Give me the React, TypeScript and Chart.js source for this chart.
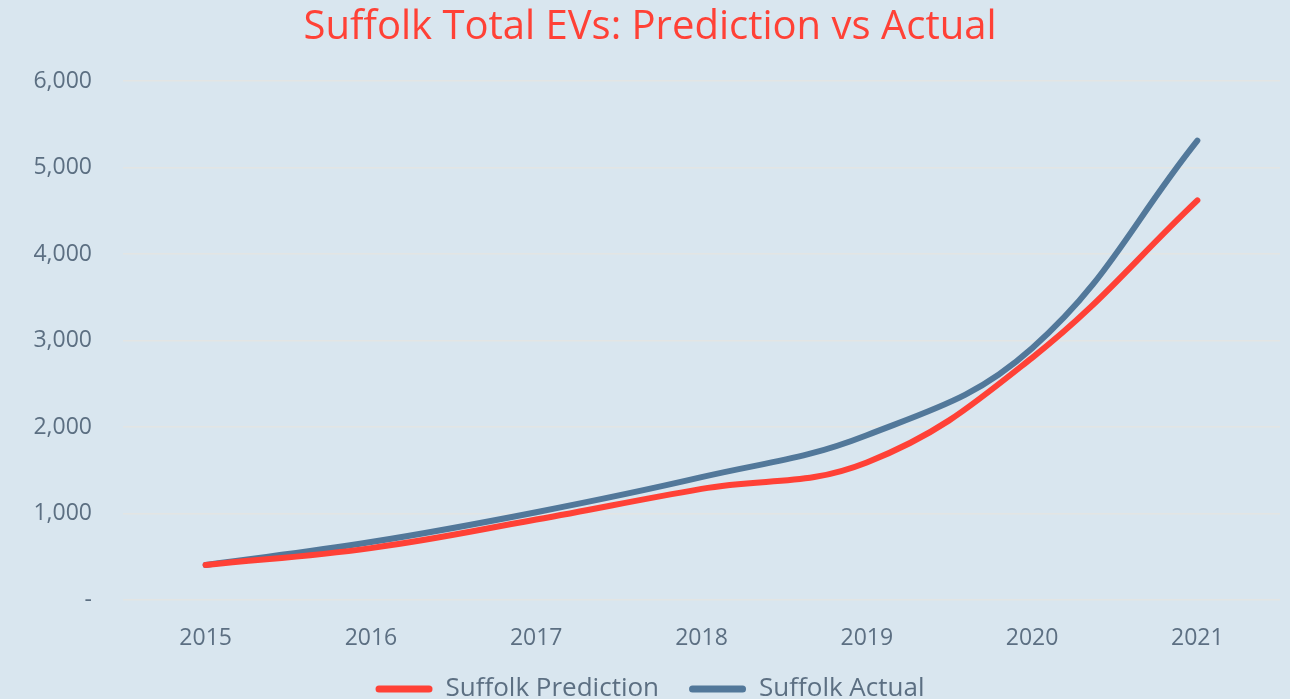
import React, { useEffect, useRef } from "react";
import { Chart, registerables } from "chart.js";

Chart.register(...registerables);

const years = ["2015", "2016", "2017", "2018", "2019", "2020", "2021"];
const predictionValues = [405, 600, 930, 1285, 1590, 2800, 4620];
const actualValues = [405, 670, 1015, 1420, 1905, 2910, 5310];
const yTicks = [0, 1000, 2000, 3000, 4000, 5000, 6000];

const BG = "#d9e6ef";
const RED = "#ff4136";
const BLUE = "#52789a";
const TEXT = "#5c6f82";
const FONT = "'Open Sans', 'Noto Sans', sans-serif";

export default function App() {
  const ref = useRef<HTMLCanvasElement | null>(null);

  useEffect(() => {
    document.body.style.margin = "0";
    const ctx = ref.current!;
    const chart = new Chart(ctx, {
      type: "line",
      data: {
        labels: years,
        datasets: [
          {
            label: "Suffolk Prediction",
            data: predictionValues,
            borderColor: RED,
            backgroundColor: RED,
            borderWidth: 6,
            tension: 0.4,
            pointRadius: 0,
            borderCapStyle: "round",
            fill: false,
          },
          {
            label: "Suffolk Actual",
            data: actualValues,
            borderColor: BLUE,
            backgroundColor: BLUE,
            borderWidth: 6,
            tension: 0.4,
            pointRadius: 0,
            borderCapStyle: "round",
            fill: false,
          },
        ],
      },
      options: {
        animation: false,
        responsive: false,
        maintainAspectRatio: false,
        layout: { padding: { left: 20, right: 10, top: 0, bottom: -13 } },
        plugins: {
          title: {
            display: true,
            text: "Suffolk Total EVs: Prediction vs Actual",
            color: RED,
            font: { family: FONT, size: 40, weight: "normal" },
            padding: { top: 4, bottom: 29 },
          },
          legend: {
            position: "bottom",
            labels: {
              color: TEXT,
              font: { family: FONT, size: 26 },
              boxWidth: 57,
              boxHeight: 7,
              padding: 30,
              generateLabels: (c: any) =>
                c.data.datasets.map((d: any, i: number) => ({
                  text: d.label,
                  fillStyle: d.borderColor,
                  strokeStyle: d.borderColor,
                  lineWidth: 0,
                  borderRadius: 3.5,
                  datasetIndex: i,
                  hidden: false,
                  fontColor: TEXT,
                })),
            },
          },
          tooltip: { enabled: false },
        },
        scales: {
          x: {
            offset: true,
            grid: { display: false },
            border: { display: false },
            ticks: {
              color: TEXT,
              font: { family: FONT, size: 23 },
              padding: 17,
            },
            afterFit: (s: any) => {
              s.height = 46;
            },
          },
          y: {
            min: 0,
            max: 6000,
            afterBuildTicks: (s: any) => {
              s.ticks = yTicks.map((v) => ({ value: v }));
            },
            grid: { color: "#e3e5e4", lineWidth: 1.5, drawTicks: false },
            border: { display: false },
            ticks: {
              color: TEXT,
              font: { family: FONT, size: 23 },
              padding: 31,
              callback: (v: any) =>
                Number(v) === 0 ? "-" : Number(v).toLocaleString("en-US"),
            },
            afterFit: (s: any) => {
              s.width = 103;
            },
          },
        },
      },
    });
    return () => chart.destroy();
  }, []);

  return (
    <div
      style={{
        position: "fixed",
        left: 0,
        top: 0,
        width: 1290,
        height: 699,
        background: BG,
      }}
    >
      <canvas ref={ref} width={1290} height={699} style={{ display: "block" }} />
    </div>
  );
}
